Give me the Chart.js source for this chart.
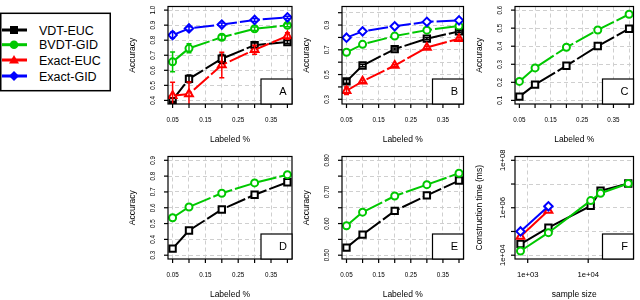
<!DOCTYPE html>
<html>
<head>
<meta charset="utf-8">
<script src="https://cdn.jsdelivr.net/npm/chart.js@4/dist/chart.umd.min.js"></script>
<style>
  html, body { margin: 0; padding: 0; background: #fff; }
  #wrap { position: relative; width: 640px; height: 300px; overflow: hidden; font-family: "Liberation Sans", Arial, sans-serif; }
  #wrap canvas { position: absolute; }
  #legend { position: absolute; left: 0; top: 12px; }
</style>
</head>
<body>
<div id="wrap">
  <svg id="legend" width="112" height="80"></svg>
</div>
<script>
// ---- data ----
const seriesNames = ['VDT-EUC', 'BVDT-GID', 'Exact-EUC', 'Exact-GID'];

const labeledPct = [0.05, 0.1, 0.2, 0.3, 0.4];
const pctTicks = [0.05, 0.1, 0.15, 0.2, 0.25, 0.3, 0.35, 0.4];
const pctTickLabels = ['0.05', '', '0.15', '', '0.25', '', '0.35', ''];

// A
const vdtA = [0.404, 0.543, 0.677, 0.767, 0.788];
const bvdtA = [0.656, 0.746, 0.820, 0.876, 0.899];
const exEucA = [0.431, 0.442, 0.635, 0.736, 0.828];
const exGidA = [0.834, 0.878, 0.904, 0.935, 0.952];
const vdtErrA = [0.012, 0.025, 0.03, 0.015, 0.01];
const bvdtErrA = [0.065, 0.03, 0.015, 0.012, 0.01];
const exEucErrA = [0.09, 0.08, 0.085, 0.03, 0.022];
const exGidErrA = [0.02, 0.012, 0.01, 0.01, 0.008];
const accTicksA = [0.4, 0.5, 0.6, 0.7, 0.8, 0.9, 1.0];
const accLabelsA = ['0.4', '0.5', '0.6', '0.7', '0.8', '0.9', '1.0'];

// B
const vdtB = [0.445, 0.573, 0.706, 0.790, 0.849];
const bvdtB = [0.680, 0.744, 0.811, 0.859, 0.892];
const exEucB = [0.369, 0.445, 0.573, 0.719, 0.790];
const exGidB = [0.798, 0.849, 0.890, 0.926, 0.938];
const vdtErrB = [0.015, 0.01, 0.008, 0.008, 0.008];
const exEucErrB = [0.03, 0.01, 0.008, 0.01, 0.01];
const accTicksB = [0.3, 0.4, 0.5, 0.6, 0.7, 0.8, 0.9, 1.0];
const accLabelsB = ['0.3', '', '0.5', '', '0.7', '', '0.9', ''];

// C
const vdtC = [0.121, 0.187, 0.292, 0.401, 0.497];
const bvdtC = [0.205, 0.280, 0.394, 0.490, 0.577];
const accTicksC = [0.1, 0.2, 0.3, 0.4, 0.5, 0.6];
const accLabelsC = ['0.1', '0.2', '0.3', '0.4', '0.5', '0.6'];

// D
const vdtD = [0.342, 0.456, 0.589, 0.682, 0.761];
const bvdtD = [0.537, 0.605, 0.692, 0.757, 0.809];
const accTicksD = [0.3, 0.4, 0.5, 0.6, 0.7, 0.8, 0.9];
const accLabelsD = ['0.3', '0.4', '0.5', '0.6', '0.7', '0.8', '0.9'];

// E
const vdtE = [0.524, 0.565, 0.640, 0.689, 0.736];
const bvdtE = [0.593, 0.636, 0.687, 0.723, 0.759];
const accTicksE = [0.50, 0.55, 0.60, 0.65, 0.70, 0.75, 0.80];
const accLabelsE = ['0.50', '', '0.60', '', '0.70', '', '0.80'];

// F
const sizeVdt = [760, 2200, 11000, 16000, 46000];
const sizeExact = [760, 2200];
const timeVdtF = [29500, 145000, 1200000, 5200000, 10500000];
const timeBvdtF = [15000, 89000, 2000000, 4100000, 10500000];
const timeExEucF = [62000, 760000];
const timeExGidF = [100000, 1150000];
const sizeTicks = [1000, 10000];
const sizeTickLabels = ['1e+03', '1e+04'];
const timeTicks = [1e4, 1e5, 1e6, 1e7, 1e8];
const timeTickLabels = ['1e+04', '', '1e+06', '', '1e+08'];

// ---- styles ----
const GREEN = '#00c800';
const styles = {
  'VDT-EUC':   { color: '#000000', point: 'rect',     r: 4.5 },
  'BVDT-GID':  { color: GREEN,     point: 'circle',   r: 3.5 },
  'Exact-EUC': { color: '#ff0000', point: 'triangle', r: 4.5 },
  'Exact-GID': { color: '#0000ff', point: 'rectRot',  r: 4.2 }
};
const FONT = '"Liberation Sans", Arial, sans-serif';

// ---- legend ----
(function drawLegend() {
  const svg = document.getElementById('legend');
  const ns = 'http://www.w3.org/2000/svg';
  const add = (tag, attrs) => {
    const el = document.createElementNS(ns, tag);
    for (const k in attrs) el.setAttribute(k, attrs[k]);
    svg.appendChild(el);
    return el;
  };
  add('rect', { x: 0.75, y: 1.3, width: 109.5, height: 77.4, fill: '#fff', stroke: '#000', 'stroke-width': 1.5 });
  const rows = [18, 32.7, 48, 64];
  seriesNames.forEach((name, i) => {
    const st = styles[name], y = rows[i], cx = 14;
    add('line', { x1: 2, y1: y, x2: 27, y2: y, stroke: st.color, 'stroke-width': 3 });
    if (st.point === 'rect') add('rect', { x: cx - 4, y: y - 4, width: 8, height: 8, fill: st.color });
    if (st.point === 'circle') add('circle', { cx: cx, cy: y, r: 4.3, fill: st.color });
    if (st.point === 'triangle') add('polygon', { points: `${cx},${y - 5} ${cx + 5},${y + 3.5} ${cx - 5},${y + 3.5}`, fill: st.color });
    if (st.point === 'rectRot') add('polygon', { points: `${cx},${y - 5} ${cx + 5},${y} ${cx},${y + 5} ${cx - 5},${y}`, fill: st.color });
    const t = add('text', { x: 39, y: y + 4.5, 'font-family': FONT, 'font-size': 12.5, fill: '#000' });
    t.textContent = name;
  });
})();

// ---- panels ----
const pctX = { type: 'linear', min: 0.036, max: 0.414, ticks: pctTicks, labels: pctTickLabels };

const panels = [
  { letter: 'A', rect: [125, 0, 175, 150], plot: [168, 1, 292, 104],
    x: pctX, y: { type: 'linear', min: 0.376, max: 1.024, ticks: accTicksA, labels: accLabelsA },
    xTitle: 'Labeled %', yTitle: 'Accuracy', tickFont: 6.3, yLabOff: 15,
    series: [
      { name: 'VDT-EUC', x: labeledPct, y: vdtA, err: vdtErrA },
      { name: 'BVDT-GID', x: labeledPct, y: bvdtA, err: bvdtErrA },
      { name: 'Exact-EUC', x: labeledPct, y: exEucA, err: exEucErrA },
      { name: 'Exact-GID', x: labeledPct, y: exGidA, err: exGidErrA }
    ] },
  { letter: 'B', rect: [300, 0, 170, 150], plot: [342, 1, 466, 104],
    x: pctX, y: { type: 'linear', min: 0.262, max: 1.05, ticks: accTicksB, labels: accLabelsB },
    xTitle: 'Labeled %', yTitle: 'Accuracy', tickFont: 6.3, yLabOff: 15,
    series: [
      { name: 'VDT-EUC', x: labeledPct, y: vdtB, err: vdtErrB },
      { name: 'BVDT-GID', x: labeledPct, y: bvdtB },
      { name: 'Exact-EUC', x: labeledPct, y: exEucB, err: exEucErrB },
      { name: 'Exact-GID', x: labeledPct, y: exGidB }
    ] },
  { letter: 'C', rect: [470, 0, 170, 150], plot: [515, 1, 639, 104],
    x: pctX, y: { type: 'linear', min: 0.08, max: 0.62, ticks: accTicksC, labels: accLabelsC },
    xTitle: 'Labeled %', yTitle: 'Accuracy', tickFont: 6.3, yLabOff: 15,
    series: [
      { name: 'VDT-EUC', x: labeledPct, y: vdtC },
      { name: 'BVDT-GID', x: labeledPct, y: bvdtC }
    ] },
  { letter: 'D', rect: [125, 150, 175, 150], plot: [168, 155, 292, 259],
    x: pctX, y: { type: 'linear', min: 0.276, max: 0.924, ticks: accTicksD, labels: accLabelsD },
    xTitle: 'Labeled %', yTitle: 'Accuracy', tickFont: 6.3, yLabOff: 15,
    series: [
      { name: 'VDT-EUC', x: labeledPct, y: vdtD },
      { name: 'BVDT-GID', x: labeledPct, y: bvdtD }
    ] },
  { letter: 'E', rect: [300, 150, 170, 150], plot: [342, 155, 465, 259],
    x: pctX, y: { type: 'linear', min: 0.488, max: 0.812, ticks: accTicksE, labels: accLabelsE },
    xTitle: 'Labeled %', yTitle: 'Accuracy', tickFont: 6.3, yLabOff: 15,
    series: [
      { name: 'VDT-EUC', x: labeledPct, y: vdtE },
      { name: 'BVDT-GID', x: labeledPct, y: bvdtE }
    ] },
  { letter: 'F', rect: [470, 150, 170, 150], plot: [515, 155, 639, 259],
    x: { type: 'logarithmic', min: Math.pow(10, 2.79), max: Math.pow(10, 4.749), ticks: sizeTicks, labels: sizeTickLabels },
    y: { type: 'logarithmic', min: Math.pow(10, 3.84), max: Math.pow(10, 8.16), ticks: timeTicks, labels: timeTickLabels },
    xTitle: 'sample size', yTitle: 'Construction time (ms)', tickFont: 7.7, yLabOff: 12.5, solid: true,
    series: [
      { name: 'VDT-EUC', x: sizeVdt, y: timeVdtF },
      { name: 'BVDT-GID', x: sizeVdt, y: timeBvdtF },
      { name: 'Exact-EUC', x: sizeExact, y: timeExEucF },
      { name: 'Exact-GID', x: sizeExact, y: timeExGidF }
    ] }
];

function decoPlugin(p) {
  return {
    id: 'rdeco',
    afterDatasetsDraw(chart) {
      const ctx = chart.ctx, a = chart.chartArea;
      const xs = chart.scales.x, ys = chart.scales.y;
      ctx.save();
      ctx.beginPath();
      ctx.rect(a.left, a.top, a.right - a.left, a.bottom - a.top);
      ctx.clip();
      ctx.setLineDash([]);
      p.series.forEach(s => {
        if (!s.err) return;
        ctx.strokeStyle = styles[s.name].color;
        ctx.lineWidth = 1.5;
        s.y.forEach((v, i) => {
          const px = xs.getPixelForValue(s.x[i]);
          const top = ys.getPixelForValue(v + s.err[i]);
          const bot = ys.getPixelForValue(v - s.err[i]);
          ctx.beginPath();
          ctx.moveTo(px, top); ctx.lineTo(px, bot);
          ctx.moveTo(px - 2.5, top); ctx.lineTo(px + 2.5, top);
          ctx.moveTo(px - 2.5, bot); ctx.lineTo(px + 2.5, bot);
          ctx.stroke();
        });
      });
      ctx.restore();
    },
    afterDraw(chart) {
      const ctx = chart.ctx, a = chart.chartArea;
      const xs = chart.scales.x, ys = chart.scales.y;
      ctx.save();
      ctx.setLineDash([]);
      ctx.strokeStyle = '#000';
      ctx.fillStyle = '#000';
      ctx.lineWidth = 1.2;
      ctx.strokeRect(a.left, a.top, a.right - a.left, a.bottom - a.top);
      ctx.textAlign = 'center';
      ctx.textBaseline = 'middle';
      ctx.font = p.tickFont + 'px ' + FONT;
      p.x.ticks.forEach((v, i) => {
        const px = xs.getPixelForValue(v);
        ctx.beginPath(); ctx.moveTo(px, a.bottom); ctx.lineTo(px, a.bottom + 4); ctx.stroke();
        if (p.x.labels[i]) ctx.fillText(p.x.labels[i], px, a.bottom + 16);
      });
      p.y.ticks.forEach((v, i) => {
        const py = ys.getPixelForValue(v);
        ctx.beginPath(); ctx.moveTo(a.left - 4, py); ctx.lineTo(a.left, py); ctx.stroke();
        if (p.y.labels[i]) {
          ctx.save();
          ctx.translate(a.left - p.yLabOff, py);
          ctx.rotate(-Math.PI / 2);
          ctx.fillText(p.y.labels[i], 0, 0);
          ctx.restore();
        }
      });
      ctx.font = '8.5px ' + FONT;
      ctx.fillText(p.xTitle, (a.left + a.right) / 2, a.bottom + 36);
      ctx.save();
      ctx.translate(a.left - 35, (a.top + a.bottom) / 2);
      ctx.rotate(-Math.PI / 2);
      ctx.fillText(p.yTitle, 0, 0);
      ctx.restore();
      // panel letter box
      const bw = 31, bh = 25;
      ctx.fillStyle = '#fff';
      ctx.fillRect(a.right - bw, a.bottom - bh, bw, bh);
      ctx.strokeRect(a.right - bw, a.bottom - bh, bw, bh);
      ctx.fillStyle = '#000';
      ctx.font = '11px ' + FONT;
      ctx.fillText(p.letter, a.right - 9, a.bottom - bh / 2);
      ctx.restore();
    }
  };
}

function axisOpts(ax) {
  return {
    type: ax.type,
    min: ax.min,
    max: ax.max,
    bounds: 'data',
    afterBuildTicks: scale => { scale.ticks = ax.ticks.map(v => ({ value: v })); },
    ticks: { display: false },
    grid: { color: '#cfcfcf', lineWidth: 1, drawTicks: false },
    border: { display: false, dash: [4, 3] }
  };
}

const wrap = document.getElementById('wrap');
panels.forEach(p => {
  const [cl, ct, cw, ch] = p.rect;
  const cv = document.createElement('canvas');
  cv.width = cw; cv.height = ch;
  cv.style.left = cl + 'px'; cv.style.top = ct + 'px';
  cv.style.width = cw + 'px'; cv.style.height = ch + 'px';
  wrap.appendChild(cv);

  const datasets = p.series.slice().reverse().map(s => {
    const st = styles[s.name];
    return {
      label: s.name,
      data: s.x.map((xv, i) => ({ x: xv, y: s.y[i] })),
      borderColor: st.color,
      backgroundColor: '#fff',
      borderWidth: 2,
      borderDash: p.solid ? [] : [20, 3],
      tension: 0,
      fill: false,
      pointStyle: st.point,
      pointRadius: st.r,
      pointBorderWidth: 2,
      pointBackgroundColor: '#fff',
      pointBorderColor: st.color
    };
  });

  new Chart(cv.getContext('2d'), {
    type: 'line',
    data: { datasets: datasets },
    options: {
      responsive: false,
      animation: false,
      devicePixelRatio: 1,
      layout: {
        padding: {
          left: p.plot[0] - cl,
          top: p.plot[1] - ct,
          right: cl + cw - p.plot[2],
          bottom: ct + ch - p.plot[3]
        }
      },
      scales: { x: axisOpts(p.x), y: axisOpts(p.y) },
      plugins: { legend: { display: false }, tooltip: { enabled: false } }
    },
    plugins: [decoPlugin(p)]
  });
});
</script>
</body>
</html>
